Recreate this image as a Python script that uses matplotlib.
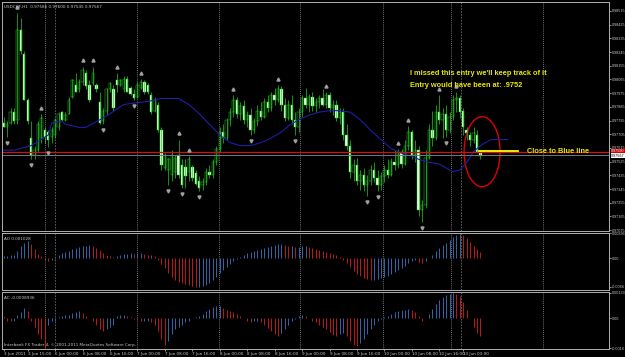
import matplotlib.pyplot as plt
from matplotlib.patches import Ellipse
import numpy as np

# USDCHF H1 candles (one per hour)
opens = [0.9778, 0.9775, 0.9778, 0.9785, 0.9780, 0.9839, 0.9823, 0.9793, 0.9768, 0.9757,
         0.9760, 0.9768, 0.9773, 0.9772, 0.9769, 0.9770, 0.9775, 0.9785, 0.9780, 0.9784,
         0.9795, 0.9803, 0.9800, 0.9805, 0.9811, 0.9803, 0.9804, 0.9803, 0.9792, 0.9779,
         0.9786, 0.9800, 0.9800, 0.9806, 0.9803, 0.9800, 0.9807, 0.9801, 0.9797, 0.9795,
         0.9801, 0.9805, 0.9803, 0.9796, 0.9786, 0.9790, 0.9773, 0.9748, 0.9747, 0.9744,
         0.9746, 0.9757, 0.9750, 0.9749, 0.9746, 0.9749, 0.9745, 0.9740, 0.9737, 0.9739,
         0.9746, 0.9744, 0.9752, 0.9761, 0.9772, 0.9768, 0.9780, 0.9785, 0.9793, 0.9784,
         0.9789, 0.9780, 0.9783, 0.9773, 0.9779, 0.9786, 0.9782, 0.9792, 0.9788, 0.9796,
         0.9793, 0.9800, 0.9790, 0.9781, 0.9790, 0.9780, 0.9775, 0.9785, 0.9794, 0.9790,
         0.9795, 0.9789, 0.9792, 0.9794, 0.9790, 0.9796, 0.9788, 0.9790, 0.9781, 0.9785,
         0.9770, 0.9763, 0.9746, 0.9750, 0.9740, 0.9744, 0.9737, 0.9740, 0.9747, 0.9742,
         0.9737, 0.9743, 0.9747, 0.9744, 0.9752, 0.9750, 0.9759, 0.9751, 0.9763, 0.9772,
         0.9757, 0.9760, 0.9721, 0.9724, 0.9755, 0.9773, 0.9768, 0.9785, 0.9780, 0.9784,
         0.9773, 0.9782, 0.9793, 0.9794, 0.9786, 0.9773, 0.9770, 0.9767, 0.9770, 0.9759]
highs = [0.9782, 0.9779, 0.9788, 0.9788, 0.9850, 0.9847, 0.9825, 0.9794, 0.9779, 0.9763,
         0.9779, 0.9784, 0.9775, 0.9773, 0.9775, 0.9781, 0.9785, 0.9786, 0.9785, 0.9795,
         0.9807, 0.9811, 0.9807, 0.9815, 0.9813, 0.9806, 0.9815, 0.9804, 0.9798, 0.9788,
         0.9801, 0.9805, 0.9803, 0.9811, 0.9807, 0.9809, 0.9809, 0.9802, 0.9800, 0.9805,
         0.9807, 0.9806, 0.9804, 0.9798, 0.9795, 0.9792, 0.9775, 0.9758, 0.9755, 0.9760,
         0.9757, 0.9767, 0.9754, 0.9754, 0.9756, 0.9750, 0.9747, 0.9743, 0.9742, 0.9748,
         0.9750, 0.9754, 0.9763, 0.9775, 0.9777, 0.9781, 0.9788, 0.9796, 0.9795, 0.9792,
         0.9793, 0.9786, 0.9788, 0.9781, 0.9790, 0.9792, 0.9794, 0.9796, 0.9798, 0.9801,
         0.9803, 0.9802, 0.9794, 0.9793, 0.9796, 0.9785, 0.9788, 0.9796, 0.9801, 0.9797,
         0.9798, 0.9794, 0.9796, 0.9800, 0.9798, 0.9798, 0.9793, 0.9793, 0.9788, 0.9788,
         0.9777, 0.9767, 0.9754, 0.9755, 0.9747, 0.9748, 0.9744, 0.9750, 0.9752, 0.9747,
         0.9746, 0.9750, 0.9754, 0.9755, 0.9760, 0.9761, 0.9761, 0.9767, 0.9776, 0.9773,
         0.9767, 0.9763, 0.9727, 0.9760, 0.9777, 0.9786, 0.9790, 0.9796, 0.9788, 0.9790,
         0.9785, 0.9796, 0.9798, 0.9796, 0.9788, 0.9775, 0.9772, 0.9775, 0.9773, 0.9760]
lows = [0.9775, 0.9769, 0.9777, 0.9777, 0.9777, 0.9823, 0.9793, 0.9777, 0.9754, 0.9754,
        0.9759, 0.9765, 0.9765, 0.9762, 0.9765, 0.9768, 0.9773, 0.9779, 0.9779, 0.9784,
        0.9794, 0.9798, 0.9798, 0.9803, 0.9800, 0.9792, 0.9803, 0.9798, 0.9777, 0.9777,
        0.9783, 0.9798, 0.9786, 0.9798, 0.9802, 0.9798, 0.9798, 0.9796, 0.9793, 0.9794,
        0.9800, 0.9797, 0.9797, 0.9784, 0.9785, 0.9772, 0.9747, 0.9747, 0.9737, 0.9740,
        0.9742, 0.9742, 0.9735, 0.9735, 0.9740, 0.9740, 0.9737, 0.9733, 0.9734, 0.9737,
        0.9742, 0.9742, 0.9750, 0.9759, 0.9765, 0.9767, 0.9776, 0.9782, 0.9781, 0.9780,
        0.9777, 0.9775, 0.9770, 0.9771, 0.9776, 0.9780, 0.9781, 0.9785, 0.9786, 0.9790,
        0.9792, 0.9786, 0.9779, 0.9780, 0.9777, 0.9770, 0.9772, 0.9782, 0.9788, 0.9785,
        0.9786, 0.9785, 0.9788, 0.9789, 0.9788, 0.9785, 0.9783, 0.9779, 0.9777, 0.9767,
        0.9760, 0.9742, 0.9740, 0.9737, 0.9734, 0.9733, 0.9730, 0.9737, 0.9739, 0.9733,
        0.9734, 0.9739, 0.9742, 0.9743, 0.9747, 0.9748, 0.9748, 0.9750, 0.9760, 0.9754,
        0.9752, 0.9717, 0.9713, 0.9722, 0.9754, 0.9763, 0.9767, 0.9777, 0.9768, 0.9769,
        0.9771, 0.9780, 0.9785, 0.9781, 0.9770, 0.9767, 0.9763, 0.9765, 0.9758, 0.9754]
closes = [0.9775, 0.9777, 0.9785, 0.9779, 0.9839, 0.9825, 0.9793, 0.9779, 0.9757, 0.9760,
          0.9777, 0.9781, 0.9769, 0.9767, 0.9773, 0.9780, 0.9784, 0.9780, 0.9783, 0.9793,
          0.9806, 0.9798, 0.9805, 0.9813, 0.9802, 0.9793, 0.9811, 0.9800, 0.9778, 0.9786,
          0.9800, 0.9804, 0.9788, 0.9803, 0.9806, 0.9807, 0.9798, 0.9797, 0.9794, 0.9803,
          0.9805, 0.9798, 0.9798, 0.9785, 0.9793, 0.9773, 0.9750, 0.9757, 0.9754, 0.9757,
          0.9755, 0.9744, 0.9737, 0.9743, 0.9754, 0.9742, 0.9738, 0.9735, 0.9739, 0.9746,
          0.9744, 0.9752, 0.9761, 0.9772, 0.9768, 0.9780, 0.9785, 0.9793, 0.9784, 0.9789,
          0.9780, 0.9783, 0.9773, 0.9779, 0.9786, 0.9782, 0.9792, 0.9788, 0.9796, 0.9793,
          0.9800, 0.9790, 0.9781, 0.9790, 0.9780, 0.9775, 0.9785, 0.9794, 0.9790, 0.9795,
          0.9789, 0.9792, 0.9794, 0.9790, 0.9796, 0.9788, 0.9790, 0.9781, 0.9785, 0.9770,
          0.9763, 0.9746, 0.9750, 0.9740, 0.9744, 0.9737, 0.9740, 0.9747, 0.9742, 0.9737,
          0.9743, 0.9747, 0.9744, 0.9752, 0.9750, 0.9759, 0.9751, 0.9763, 0.9772, 0.9757,
          0.9760, 0.9721, 0.9724, 0.9755, 0.9773, 0.9768, 0.9785, 0.9780, 0.9784, 0.9773,
          0.9782, 0.9793, 0.9794, 0.9785, 0.9775, 0.9771, 0.9767, 0.9771, 0.9759, 0.9756]

# moving average (blue line), shifted forward past the last bar
ma_bars = [0, 3, 8, 13, 14, 17, 18, 22, 24, 28, 31, 35, 38, 42, 46, 49, 51, 54, 57, 60,
           63, 66, 69, 72, 75, 78, 81, 83, 86, 89, 92, 95, 98, 101, 104, 107, 110, 113,
           116, 119, 121, 124, 127, 130, 131, 133, 135, 137, 139, 142, 145, 147]
ma_vals = [0.9760, 0.9760, 0.9763, 0.9770, 0.9778, 0.9779, 0.9777, 0.9775, 0.9775, 0.9780,
           0.9784, 0.9790, 0.9791, 0.9792, 0.9794, 0.9794, 0.9794, 0.9790, 0.9784, 0.9777,
           0.9770, 0.9765, 0.9763, 0.9763, 0.9765, 0.9768, 0.9772, 0.9776, 0.9780, 0.9783,
           0.9785, 0.9786, 0.9786, 0.9785, 0.9780, 0.9773, 0.9767, 0.9761, 0.9758, 0.9756,
           0.9754, 0.9752, 0.9751, 0.9747, 0.9746, 0.9747, 0.9752, 0.9759, 0.9763, 0.9767,
           0.9767, 0.9767]

up_fractals = [4, 11, 23, 26, 33, 40, 51, 54, 67, 80, 94, 115, 118, 127, 132]
down_fractals = [1, 8, 13, 29, 38, 48, 52, 57, 72, 85, 106, 109, 122, 129]

ao = [0.00032, 0.00032, 0.00047, 0.00047, 0.00111, 0.00190, 0.00237, 0.00269, 0.00221, 0.00142,
      0.00063, 0.00032, -0.00032, -0.00047, -0.00032, -0.00016, 0.00047, 0.00079, 0.00095, 0.00111,
      0.00142, 0.00158, 0.00174, 0.00190, 0.00190, 0.00205, 0.00190, 0.00158, 0.00126, 0.00079,
      0.00047, 0.00032, 0.00016, 0.00032, 0.00047, 0.00063, 0.00063, 0.00079, 0.00063, 0.00079,
      0.00079, 0.00063, 0.00047, 0.00047, 0.00032, -0.00032, -0.00095, -0.00158, -0.00237, -0.00300,
      -0.00348, -0.00379, -0.00395, -0.00411, -0.00427, -0.00442, -0.00458, -0.00458, -0.00442, -0.00427,
      -0.00395, -0.00348, -0.00300, -0.00237, -0.00190, -0.00142, -0.00095, -0.00047, -0.00016, 0.00016,
      0.00047, 0.00079, 0.00095, 0.00111, 0.00126, 0.00142, 0.00158, 0.00174, 0.00190, 0.00205,
      0.00221, 0.00221, 0.00205, 0.00190, 0.00190, 0.00174, 0.00174, 0.00190, 0.00190, 0.00174,
      0.00158, 0.00142, 0.00126, 0.00111, 0.00095, 0.00079, 0.00063, 0.00047, 0.00016, -0.00032,
      -0.00079, -0.00142, -0.00205, -0.00253, -0.00284, -0.00316, -0.00332, -0.00348, -0.00348, -0.00332,
      -0.00316, -0.00300, -0.00284, -0.00253, -0.00221, -0.00190, -0.00158, -0.00126, -0.00079, -0.00047,
      -0.00032, -0.00063, -0.00079, -0.00047, 0.00002, 0.00047, 0.00111, 0.00158, 0.00205, 0.00237,
      0.00284, 0.00332, 0.00363, 0.00396, 0.00363, 0.00316, 0.00253, 0.00190, 0.00142, 0.00103]

ac = [0.00005, -0.00011, -0.00016, -0.00016, 0.00016, 0.00032, 0.00053, 0.00037, -0.00016, -0.00043,
      -0.00080, -0.00107, -0.00155, -0.00032, -0.00016, -0.00011, 0.00005, 0.00011, 0.00016, 0.00016,
      0.00027, 0.00032, 0.00037, 0.00027, 0.00011, 0.0, -0.00016, -0.00032, -0.00053, -0.00064,
      -0.00053, -0.00043, -0.00032, 0.00011, 0.00016, 0.00016, 0.00011, 0.00005, -0.00005, -0.00005,
      -0.00011, -0.00011, -0.00011, -0.00021, -0.00032, -0.00064, -0.00107, -0.00139, -0.00117, -0.00080,
      -0.00053, -0.00043, -0.00032, -0.00021, -0.00011, 0.0, 0.00005, 0.00011, 0.00021, 0.00037,
      0.00048, 0.00059, 0.00064, 0.00064, 0.00053, 0.00043, 0.00037, 0.00032, 0.00021, 0.00011,
      0.0, -0.00011, -0.00021, -0.00016, -0.00011, -0.00021, -0.00032, -0.00048, -0.00064, -0.00080,
      -0.00091, -0.00075, -0.00053, -0.00032, -0.00016, -0.00005, 0.00011, 0.00016, 0.00011, 0.0,
      -0.00011, -0.00021, -0.00032, -0.00043, -0.00053, -0.00069, -0.00085, -0.00091, -0.00080, -0.00075,
      -0.00091, -0.00117, -0.00139, -0.00144, -0.00128, -0.00107, -0.00080, -0.00053, -0.00032, -0.00016,
      -0.00005, 0.00005, 0.00011, 0.00021, 0.00032, 0.00037, 0.00043, 0.00043, 0.00048, 0.00043,
      0.00032, 0.00011, -0.00011, 0.0, 0.00021, 0.00048, 0.00075, 0.00096, 0.00112, 0.00123,
      0.00128, 0.00133, 0.00128, 0.00117, 0.00085, 0.00043, 0.0, -0.00043, -0.00075, -0.00091]

price_ticks = [0.98515, 0.98425, 0.98335, 0.98245, 0.98155, 0.98065, 0.97975, 0.97885, 0.97795,
               0.97705, 0.97615, 0.97525, 0.97435, 0.97345, 0.97255, 0.97165, 0.97075]
ao_ticks = [0.00396, 0.0, -0.0046]
ao_tick_labels = ['0.00396', '0.00', '-0.0046']
ac_ticks = [0.00133, 0.0, -0.00155]
ac_tick_labels = ['0.00133', '0.00', '-0.0016']

time_pos = [0, 7, 15, 23, 31, 39, 47, 55, 63, 71, 79, 87, 95, 103, 111, 119, 127, 134]
time_labels = ['3 Jun 2011', '3 Jun 15:00', '6 Jun 00:00', '6 Jun 08:00', '6 Jun 16:00',
               '7 Jun 00:00', '7 Jun 08:00', '7 Jun 16:00', '8 Jun 00:00', '8 Jun 08:00',
               '8 Jun 16:00', '9 Jun 00:00', '9 Jun 08:00', '9 Jun 16:00', '10 Jun 00:00',
               '10 Jun 08:00', '10 Jun 16:00', '13 Jun 03:00']

entry_price = 0.9759   # red line
bid_price = 0.97567    # grey line

# vertical separators (in bar positions)
light_seps = [12, 38.9, 62.8, 86.4, 110.6, 130.4, 157.2]
dark_seps = [15, 133.3]

fg = '#c8c8c8'
wick = '#22cc22'
small = 3.0
axis_font = dict(family='Liberation Sans', size=2.7)

fig = plt.figure(figsize=(6.25, 3.57), dpi=100, facecolor='black')
left, width = 2 / 625, 607 / 625
ax = fig.add_axes([left, 1 - 231 / 357, width, 229 / 357])
ax_ao = fig.add_axes([left, 1 - 290 / 357, width, 57 / 357])
ax_ac = fig.add_axes([left, 1 - 349 / 357, width, 57 / 357])

for a in (ax, ax_ao, ax_ac):
    a.set_facecolor('black')
    a.set_xlim(-0.5, 176.5)
    for s in a.spines.values():
        s.set_color('#b0b0b0')
        s.set_linewidth(0.7)
    a.yaxis.tick_right()
    a.tick_params(axis='y', colors=fg, length=1.2, width=0.5, pad=0.6)
    for p in light_seps:
        a.axvline(p, color='#9a9a9a', ls=(0, (1, 1.5)), lw=0.6)
    for p in dark_seps:
        a.axvline(p, color='#6a6a6a', ls=(0, (2, 1.5)), lw=0.6)

# main chart
x = np.arange(len(closes))
o = np.array(opens)
c = np.array(closes)
h = np.array(highs)
lo = np.array(lows)
ax.vlines(x, lo, h, color=wick, lw=0.5)
bull = c >= o
ax.bar(x[bull], (c - o)[bull], bottom=o[bull], width=0.7, color='black',
       edgecolor=wick, lw=0.35)
ax.bar(x[~bull], (o - c)[~bull], bottom=c[~bull], width=0.7, color='#f2fff2',
       edgecolor=wick, lw=0.35)

ax.plot(ma_bars, ma_vals, color='#1e1ea8', lw=0.8)
ax.axhline(entry_price, color='#d01010', lw=0.9)
ax.axhline(bid_price, color='#6a7a8a', lw=0.7)

ax.plot(up_fractals, h[up_fractals] + 0.0004, ls='none', marker='^', ms=2.2, color='#a0a0a0')
ax.plot(down_fractals, lo[down_fractals] - 0.0004, ls='none', marker='v', ms=2.2, color='#a0a0a0')

ax.set_ylim(0.97069, 0.98574)
ax.set_yticks(price_ticks)
ax.set_yticklabels(['%.5f' % t for t in price_ticks], fontdict=axis_font)
ax.set_xticks([])

ax.text(1.0035, entry_price + 0.00004, '%.5f' % entry_price, transform=ax.get_yaxis_transform(),
        color='white', va='center', fontdict=axis_font,
        bbox=dict(fc='#d00000', ec='none', boxstyle='square,pad=0.12'))
ax.text(1.0035, bid_price - 0.00004, '%.5f' % bid_price, transform=ax.get_yaxis_transform(),
        color='black', va='center', fontdict=axis_font,
        bbox=dict(fc='white', ec='none', boxstyle='square,pad=0.12'))

ax.text(0.004, 0.988, 'USDCHF,H1  0.97586 0.97600 0.97545 0.97567', transform=ax.transAxes,
        fontsize=small, color=fg, va='top')

# annotations
yellow = '#e8e800'
note_font = dict(family='Liberation Sans', size=5.3, weight='bold')
ax.text(118.5, 0.98102, "I missed this entry we'll keep track of it", color=yellow,
        fontdict=note_font, va='center')
ax.text(118.5, 0.98028, "Entry would have been at: .9752", color=yellow,
        fontdict=note_font, va='center')
ax.plot([138.6, 150], [0.97595, 0.97595], color='#ffff00', lw=1.3)
ax.text(152.6, 0.9759, 'Close to Blue line', color=yellow, fontdict=note_font, va='center')
ax.add_patch(Ellipse((139.5, 0.9759), 10.5, 0.0046, fill=False, ec='#e00000', lw=1.0))

# AO / AC panels: blue when rising, red when falling
def osc_colors(vals):
    cols = []
    for i, v in enumerate(vals):
        rising = i == 0 or v >= vals[i - 1]
        cols.append('#3466a8' if rising else '#c01818')
    return cols

ax_ao.vlines(x, 0, ao, colors=osc_colors(ao), lw=0.7)
ax_ao.set_ylim(-0.0051, 0.0040)
ax_ao.set_yticks(ao_ticks)
ax_ao.set_yticklabels(ao_tick_labels, fontdict=axis_font)
ax_ao.set_xticks([])
ax_ao.text(0.004, 0.93, 'AO 0.001028', transform=ax_ao.transAxes, fontsize=small,
           color=fg, va='top')

ax_ac.vlines(x, 0, ac, colors=osc_colors(ac), lw=0.7)
ax_ac.set_ylim(-0.0016, 0.00138)
ax_ac.set_yticks(ac_ticks)
ax_ac.set_yticklabels(ac_tick_labels, fontdict=axis_font)
ax_ac.text(0.004, 0.93, 'AC -0.0008936', transform=ax_ac.transAxes, fontsize=small,
           color=fg, va='top')
ax_ac.text(0.004, 0.04, 'Interbank FX Trader 4, \u00a9 2001-2011 MetaQuotes Software Corp.',
           transform=ax_ac.transAxes, fontsize=small, color=fg, va='bottom')
ax_ac.set_xticks(time_pos)
ax_ac.set_xticklabels(time_labels, ha='left')
ax_ac.tick_params(axis='x', colors=fg, labelsize=small, length=1.5, width=0.5, pad=0.8)

fig.savefig('out.png', dpi=100, facecolor='black')
